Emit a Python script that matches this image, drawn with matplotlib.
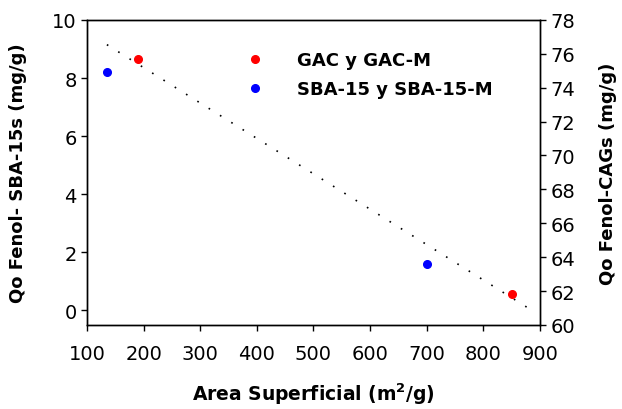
import matplotlib
matplotlib.use("Agg")
import matplotlib.pyplot as plt

# Data
gac_area = [190, 850]
gac_qo = [75.7, 61.85]          # right axis (mg/g)
sba_area = [135, 700]
sba_qo = [8.22, 1.6]            # left axis (mg/g)
trend_area = [135, 884]
trend_qo = [76.54, 60.9]        # right axis

xticks = [100, 200, 300, 400, 500, 600, 700, 800, 900]
lticks = [0, 2, 4, 6, 8, 10]
rticks = [60, 62, 64, 66, 68, 70, 72, 74, 76, 78]

plt.rcParams['font.family'] = ['DejaVu Sans']
fig = plt.figure(figsize=(6.22, 4.10), dpi=100)
ax = fig.add_axes([0.140, 0.205, 0.728, 0.744])
ax2 = ax.twinx()

ax2.plot(trend_area, trend_qo, color='black', linestyle=(0, (1, 7)), linewidth=1.2)
ax2.plot(gac_area, gac_qo, 'o', color='#ff0000', ms=5.5, label='GAC y GAC-M', zorder=5)
ax.plot(sba_area, sba_qo, 'o', color='#0000ff', ms=5.5, label='SBA-15 y SBA-15-M', zorder=5)

ax.set_xlim(100, 900)
ax.set_ylim(-0.5, 10)
ax2.set_ylim(60, 78)
ax.set_xticks(xticks)
ax.set_yticks(lticks)
ax2.set_yticks(rticks)

for a in (ax, ax2):
    a.tick_params(direction='out', length=4, width=1, labelsize=14, colors='black')
    for s in a.spines.values():
        s.set_linewidth(1)
ax.tick_params(axis='x', pad=10)

ax.set_xlabel('Area Superficial (m$^\\mathbf{2}$/g)', fontsize=13.5, fontweight='bold', labelpad=12)
ax.set_ylabel('Qo Fenol- SBA-15s (mg/g)', fontsize=13, fontweight='bold', labelpad=18)
ax2.set_ylabel('Qo Fenol-CAGs (mg/g)', fontsize=13, fontweight='bold', labelpad=17)

h1, l1 = ax2.get_legend_handles_labels()
h2, l2 = ax.get_legend_handles_labels()
ax2.legend(h1 + h2, l1 + l2, loc='upper left', bbox_to_anchor=(0.305, 0.95), frameon=False,
           prop={'weight': 'bold', 'size': 13}, handletextpad=1.6, labelspacing=0.6, handlelength=1.5)

fig.savefig('out.png', dpi=100)
